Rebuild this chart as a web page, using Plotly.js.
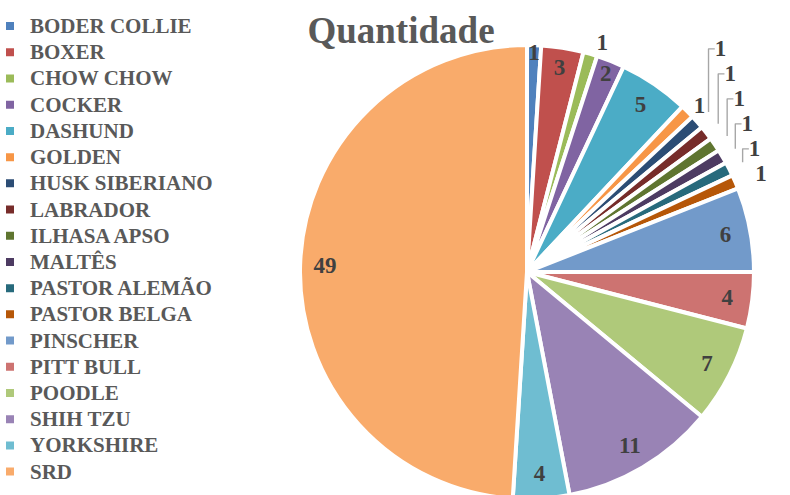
<!DOCTYPE html>
<html>
<head>
<meta charset="utf-8">
<script src="https://cdn.plot.ly/plotly-3.0.1.min.js"></script>
<style>
  html, body { margin: 0; padding: 0; overflow: hidden; background: #fff; }
  #chart { width: 790px; height: 530px; }
</style>
</head>
<body>
<div id="chart"></div>
<script>
const categories = ['BODER COLLIE', 'BOXER', 'CHOW CHOW', 'COCKER', 'DASHUND', 'GOLDEN',
  'HUSK SIBERIANO', 'LABRADOR', 'ILHASA APSO', 'MALTÊS', 'PASTOR ALEMÃO', 'PASTOR BELGA',
  'PINSCHER', 'PITT BULL', 'POODLE', 'SHIH TZU', 'YORKSHIRE', 'SRD'];
const values = [1, 3, 1, 2, 5, 1, 1, 1, 1, 1, 1, 1, 6, 4, 7, 11, 4, 49];
const sliceColors = ['#4F81BD', '#C0504D', '#9BBB59', '#8064A2', '#4BACC6', '#F79646',
  '#2C4D75', '#772C2A', '#5F7530', '#4D3B62', '#276A7C', '#B65708',
  '#729ACA', '#CD7371', '#AFC97A', '#9983B5', '#6FBDD1', '#F9AB6B'];
// label style per slice: 'in' inside, 'near' outside next to slice, 'lead' outside with leader line
const labelKind = ['in', 'in', 'near', 'in', 'in', 'near',
  'lead', 'lead', 'lead', 'lead', 'lead', 'lead',
  'in', 'in', 'in', 'in', 'in', 'in'];

const FONT = 'Liberation Serif, Times New Roman, serif';
const H = 530;
const legendLabels = categories.map(c => '<span style="font-size:21px">' + c + '</span>');
const mainDomain = { x: [0.379747, 0.954430], y: [0.058491, 0.915094] };
const leadDomain = { x: [0.360759, 0.973418], y: [0.030189, 0.943397] };
const clear = sliceColors.map(() => 'rgba(0,0,0,0)');
const valueText = '<span style="font-size:23px;color:#404040">%{value}</span>';

const pieTrace = {
  type: 'pie',
  labels: legendLabels,
  values: values,
  sort: false,
  direction: 'clockwise',
  rotation: 0,
  domain: mainDomain,
  marker: { colors: sliceColors, line: { color: '#ffffff', width: 4 } },
  textinfo: 'none',
  hoverinfo: 'skip',
  showlegend: true
};

function labelTrace(kind, pos, hole, dom) {
  return {
    type: 'pie',
    labels: legendLabels,
    values: values,
    sort: false,
    direction: 'clockwise',
    rotation: 0,
    domain: dom,
    hole: hole,
    marker: { colors: clear, line: { width: 0 } },
    texttemplate: valueText,
    textposition: labelKind.map(k => k === kind ? pos : 'none'),
    insidetextorientation: 'horizontal',
    textfont: { family: FONT, size: 23, color: '#404040', weight: 'bold' },
    insidetextfont: { family: FONT, size: 23, color: '#404040', weight: 'bold' },
    outsidetextfont: { family: FONT, size: 11, color: '#A6A6A6', weight: 'bold' },
    hoverinfo: 'skip',
    showlegend: false
  };
}

const layout = {
  width: 790,
  height: H,
  margin: { l: 0, r: 0, t: 0, b: 0, autoexpand: false },
  paper_bgcolor: '#ffffff',
  plot_bgcolor: '#ffffff',
  font: { family: FONT, color: '#595959' },
  uniformtext: { mode: 'show', minsize: 23 },
  title: {
    text: 'Quantidade',
    font: { family: FONT, size: 37, color: '#595959', weight: 'bold' },
    x: 401 / 790, xanchor: 'center', xref: 'paper',
    y: 1 - 30 / H, yanchor: 'middle', yref: 'container'
  },
  legend: {
    x: -10 / 790, xanchor: 'left',
    y: 1 - 8 / H, yanchor: 'top',
    font: { family: FONT, size: 17.85, color: '#595959', weight: 'bold' },
    bgcolor: 'rgba(0,0,0,0)',
    borderwidth: 0,
    tracegroupgap: 0
  },
  showlegend: true
};

Plotly.newPlot('chart', [
  pieTrace,
  labelTrace('in', 'inside', 0.78, mainDomain),
  labelTrace('near', 'outside', 0, mainDomain),
  labelTrace('lead', 'outside', 0, leadDomain)
], layout, { displayModeBar: false, staticPlot: true });
</script>
</body>
</html>
